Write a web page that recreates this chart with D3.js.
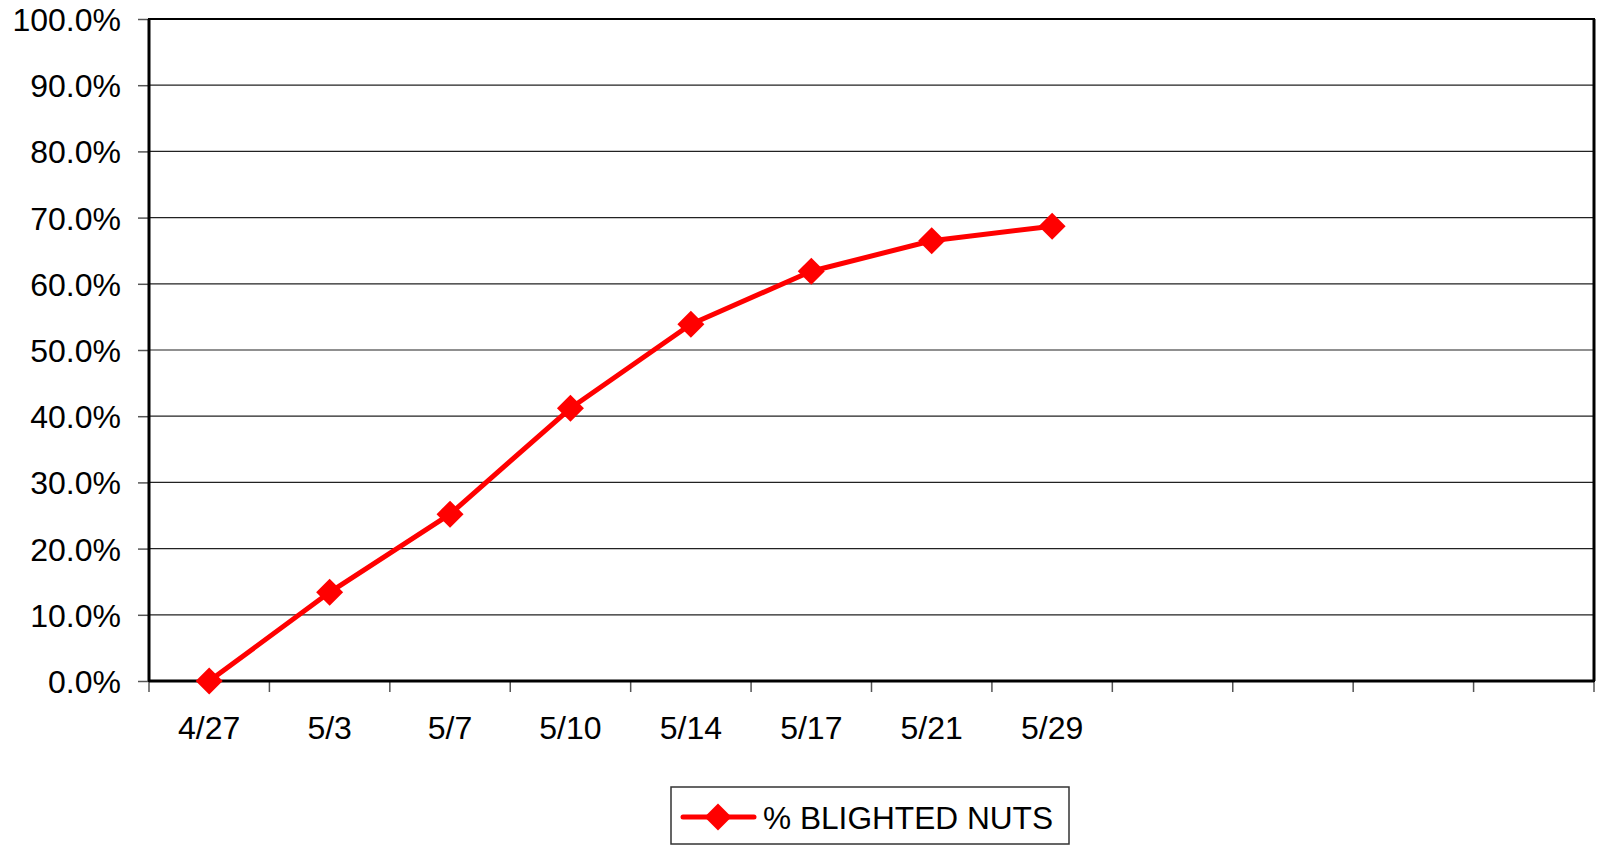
<!DOCTYPE html>
<html>
<head>
<meta charset="utf-8">
<script src="https://cdn.jsdelivr.net/npm/d3@7"></script>
<style>
  body { margin: 0; background: #fff; }
  text { font-family: Arial, "Liberation Sans", sans-serif; fill: #000; }
</style>
</head>
<body>
<div id="chart-area"></div>
<script>
// data
var dates = ["4/27", "5/3", "5/7", "5/10", "5/14", "5/17", "5/21", "5/29"];
var blighted = [0.0, 13.4, 25.2, 41.2, 53.9, 61.9, 66.5, 68.7];
var yTicks = [0, 10, 20, 30, 40, 50, 60, 70, 80, 90, 100];
var slots = 12; // the x axis keeps 12 category slots, only 8 are used
var seriesName = "% BLIGHTED NUTS";

var W = 1601, H = 847;
var margin = { left: 149, right: 7, top: 19, bottom: 166 };
var width = W - margin.left - margin.right,
    height = H - margin.top - margin.bottom;

var svg = d3.select("#chart-area")
    .append("svg")
        .attr("width", W)
        .attr("height", H);

var g = svg.append("g")
    .attr("transform", "translate(" + margin.left + ", " + margin.top + ")");

// X Scale (band of slot indexes)
var x = d3.scaleBand()
    .domain(d3.range(slots))
    .range([0, width])
    .padding(0);

// Y Scale
var y = d3.scaleLinear()
    .domain([0, 100])
    .range([height, 0]);

// gridlines
g.append("g")
    .selectAll("line")
    .data(yTicks.slice(1))
    .enter().append("line")
        .attr("x1", 0)
        .attr("x2", width)
        .attr("y1", function(d){ return y(d); })
        .attr("y2", function(d){ return y(d); })
        .attr("stroke", "#222")
        .attr("stroke-width", 1.2);

// Y axis
var yAxis = g.append("g")
    .call(d3.axisLeft(y)
        .tickValues(yTicks)
        .tickSize(11)
        .tickPadding(17)
        .tickFormat(function(d){ return d.toFixed(1) + "%"; }));
yAxis.select(".domain").remove();
yAxis.selectAll(".tick line").attr("stroke", "#555").attr("stroke-width", 1.5);
yAxis.selectAll("text")
    .attr("font-size", "32px")
    .attr("dy", "0.36em");

// X axis: ticks at slot boundaries
var bounds = d3.range(slots + 1).map(function(i){ return i * x.step(); });
g.append("g")
    .attr("transform", "translate(0," + height + ")")
    .selectAll("line")
    .data(bounds)
    .enter().append("line")
        .attr("x1", function(d){ return d; })
        .attr("x2", function(d){ return d; })
        .attr("y1", 0)
        .attr("y2", 11)
        .attr("stroke", "#555")
        .attr("stroke-width", 1.5);

// X labels
g.append("g")
    .selectAll("text")
    .data(dates)
    .enter().append("text")
        .attr("x", function(d, i){ return x(i) + x.bandwidth() / 2; })
        .attr("y", height + 58)
        .attr("text-anchor", "middle")
        .attr("font-size", "32px")
        .text(function(d){ return d; });

// plot frame
g.append("rect")
    .attr("x", 0)
    .attr("y", 0)
    .attr("width", width)
    .attr("height", height)
    .attr("fill", "none")
    .attr("stroke", "#000")
    .attr("stroke-width", 2);
g.append("line")
    .attr("x1", 0).attr("x2", 0).attr("y1", 0).attr("y2", height)
    .attr("stroke", "#000").attr("stroke-width", 3);
g.append("line")
    .attr("x1", 0).attr("x2", width).attr("y1", height).attr("y2", height)
    .attr("stroke", "#000").attr("stroke-width", 3);
g.append("line")
    .attr("x1", width).attr("x2", width).attr("y1", 0).attr("y2", height)
    .attr("stroke", "#000").attr("stroke-width", 3);

// line + markers
var pts = blighted.map(function(v, i){ return { i: i, v: v }; });
var line = d3.line()
    .x(function(d){ return x(d.i) + x.bandwidth() / 2; })
    .y(function(d){ return y(d.v); });

g.append("path")
    .datum(pts)
    .attr("d", line)
    .attr("fill", "none")
    .attr("stroke", "#ff0000")
    .attr("stroke-width", 5)
    .attr("stroke-linejoin", "round");

var diamond = d3.symbol().type(d3.symbolSquare).size(365);
g.selectAll(".marker")
    .data(pts)
    .enter().append("path")
        .attr("class", "marker")
        .attr("d", diamond)
        .attr("fill", "#ff0000")
        .attr("transform", function(d){
            return "translate(" + (x(d.i) + x.bandwidth() / 2) + "," + y(d.v) + ") rotate(45)";
        });

// legend
var legend = svg.append("g");
legend.append("rect")
    .attr("x", 671)
    .attr("y", 787)
    .attr("width", 398)
    .attr("height", 57)
    .attr("fill", "#fff")
    .attr("stroke", "#333")
    .attr("stroke-width", 1.5);
legend.append("line")
    .attr("x1", 683).attr("x2", 754)
    .attr("y1", 817).attr("y2", 817)
    .attr("stroke", "#ff0000")
    .attr("stroke-width", 5)
    .attr("stroke-linecap", "round");
legend.append("path")
    .attr("d", diamond)
    .attr("fill", "#ff0000")
    .attr("transform", "translate(718,817) rotate(45)");
legend.append("text")
    .attr("x", 763)
    .attr("y", 829)
    .attr("font-size", "32px")
    .attr("textLength", 290)
    .attr("lengthAdjust", "spacingAndGlyphs")
    .text(seriesName);
</script>
</body>
</html>
